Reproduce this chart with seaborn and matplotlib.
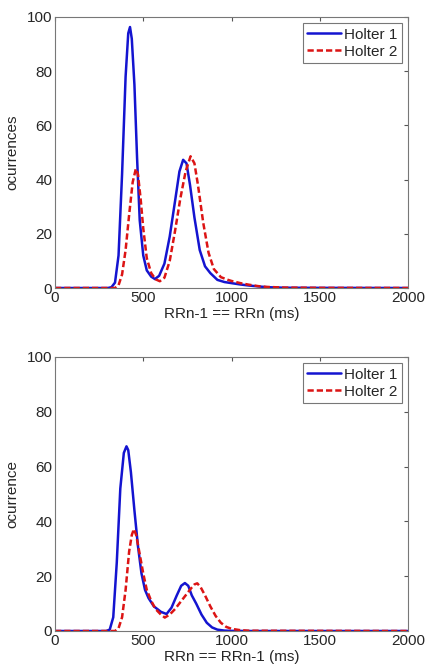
import matplotlib
matplotlib.use("Agg")
import matplotlib.pyplot as plt
import seaborn as sns
import pandas as pd

sns.set_style("white")
plt.rcParams['font.family'] = ['Liberation Sans', 'DejaVu Sans']

# Top panel data
top_h1_x = [0, 300, 320, 340, 360, 380, 400, 415, 425, 435, 450, 465, 480, 500, 520, 545, 566, 590, 620, 650, 680, 705, 726, 745, 765, 790, 820, 850, 880, 920, 960, 1000, 1050, 1100, 1150, 1200, 1300, 1500, 2000]
top_h1_y = [0, 0, 0.3, 2, 12, 42, 78, 94, 96.3, 92, 75, 48, 25, 12, 6.5, 4.2, 3.3, 4.5, 9, 19, 32, 43, 47.3, 46, 38, 26, 14, 8, 5.5, 3, 2.2, 1.8, 1.3, 0.9, 0.6, 0.3, 0.1, 0.05, 0]
top_h2_x = [0, 340, 360, 380, 400, 420, 440, 458, 470, 485, 500, 520, 545, 570, 594, 620, 650, 680, 710, 740, 768, 790, 810, 840, 870, 900, 940, 980, 1000, 1050, 1100, 1150, 1200, 1300, 1500, 2000]
top_h2_y = [0, 0, 1, 5, 14, 27, 39, 44, 42, 33, 22, 11, 5.5, 3.2, 2.5, 3.8, 10, 21, 33, 43, 48.6, 46, 38, 24, 13, 7, 4, 3, 2.6, 1.8, 1.2, 0.7, 0.4, 0.15, 0.05, 0]

# Bottom panel data
bot_h1_x = [0, 290, 310, 330, 350, 370, 390, 405, 415, 430, 450, 470, 490, 510, 530, 560, 600, 632, 660, 690, 715, 736, 755, 775, 800, 830, 860, 890, 920, 960, 1000, 1100, 2000]
bot_h1_y = [0, 0, 0.5, 5, 25, 52, 65, 67.4, 66, 58, 44, 31, 21, 15, 12, 9, 7, 6.2, 8.5, 13, 16.5, 17.5, 16.5, 13, 10, 6, 3, 1.3, 0.5, 0.15, 0.05, 0, 0]
bot_h2_x = [0, 340, 360, 380, 400, 420, 435, 447, 460, 480, 500, 520, 545, 570, 600, 622, 650, 680, 710, 740, 770, 790, 806, 825, 850, 880, 910, 940, 970, 1000, 1050, 1100, 1500, 2000]
bot_h2_y = [0, 0, 1, 5, 15, 29, 35, 37.2, 35, 28, 21, 15, 11, 8, 6, 4.9, 6, 8, 10.5, 13, 15.5, 17, 17.4, 16, 13, 9, 5.5, 3, 1.5, 0.8, 0.3, 0.1, 0.05, 0]

series_names = ["Holter 1", "Holter 2"]
x_label_top = "RRn-1 == RRn (ms)"
x_label_bot = "RRn == RRn-1 (ms)"
y_label_top = "ocurrences"
y_label_bot = "ocurrence"

def make_df(x1, y1, x2, y2):
    return pd.concat([
        pd.DataFrame({"x": x1, "y": y1, "series": series_names[0]}),
        pd.DataFrame({"x": x2, "y": y2, "series": series_names[1]}),
    ], ignore_index=True)

fig = plt.figure(figsize=(4.27, 6.66), dpi=100)
W, H = 427, 666
ax1 = fig.add_axes([55 / W, 1 - 288 / H, (408 - 55) / W, (288 - 17) / H])
ax2 = fig.add_axes([55 / W, 1 - 631 / H, (408 - 55) / W, (631 - 357) / H])

palette = {"Holter 1": "#1414d0", "Holter 2": "#dc1414"}

for ax, df, xl, yl in [
    (ax1, make_df(top_h1_x, top_h1_y, top_h2_x, top_h2_y), x_label_top, y_label_top),
    (ax2, make_df(bot_h1_x, bot_h1_y, bot_h2_x, bot_h2_y), x_label_bot, y_label_bot),
]:
    sns.lineplot(data=df, x="x", y="y", hue="series", style="series",
                 palette=palette, dashes={"Holter 1": "", "Holter 2": (2.5, 1.2)},
                 linewidth=1.8, ax=ax, sort=False, estimator=None)
    ax.set_xlim(0, 2000)
    ax.set_ylim(0, 100)
    ax.set_xticks([0, 500, 1000, 1500, 2000])
    ax.set_yticks([0, 20, 40, 60, 80, 100])
    ax.tick_params(direction="in", length=3, top=True, right=True, labelsize=11,
                   color="#555555", pad=2)
    for s in ax.spines.values():
        s.set_color("#777777")
        s.set_linewidth(0.8)
    ax.set_xlabel(xl, fontsize=11, labelpad=1.5)
    ax.set_ylabel(yl, fontsize=11, labelpad=5)
    leg = ax.legend(loc="upper right", fontsize=11, handlelength=2.2, handletextpad=0.2,
                    borderpad=0.3, labelspacing=0.2, fancybox=False, framealpha=1,
                    borderaxespad=0.4)
    leg.get_frame().set_edgecolor("#777777")
    leg.get_frame().set_linewidth(0.8)

fig.savefig("out.png", dpi=100)
